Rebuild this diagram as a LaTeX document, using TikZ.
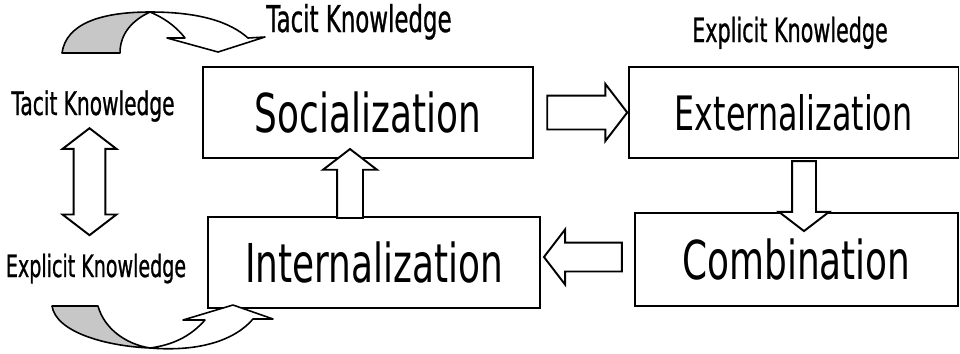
\documentclass[tikz,border=0pt]{standalone}
\usepackage{fontspec}
\newfontfamily\boxfont[FakeStretch=0.67]{DejaVu Sans}
\newfontfamily\kindfont[FakeStretch=0.62,FakeBold=0.8]{DejaVu Sans}
\usepackage{tikz}
\usetikzlibrary{positioning,calc,shapes.arrows}

\begin{document}
\begin{tikzpicture}[x=0.02cm,y=-0.02cm,line width=1.1pt,
    mode/.style={rectangle,draw,minimum width=6.6cm,minimum height=1.82cm,font=\boxfont\fontsize{30.5}{36}\selectfont},
    kind/.style={anchor=base,inner sep=0pt,font=\kindfont\fontsize{#1}{#1}\selectfont},
    flow/.style={single arrow,draw,fill=white,single arrow tip angle=105},
    band/.style={draw,line width=0.9pt,line join=round}]
\useasboundingbox (0,0) rectangle (960,353);

\node[mode] (soc) at (368,112.5) {Socialization};
\node[mode] (ext) at (793.5,112.5) [font=\boxfont\fontsize{27}{34}\selectfont] {Externalization};
\node[mode,minimum width=6.46cm,minimum height=1.86cm] (comb) at (796.5,259.5) {Combination};
\node[mode,minimum width=6.64cm] (int) at (374,262.5) {Internalization};

\node[kind=21] (tacitT) at (359,32) {Tacit Knowledge};
\node[kind=19] (explT) at (790,42) {Explicit Knowledge};
\node[kind=18.5] (tacitL) at (93,115) {Tacit Knowledge};
\node[kind=17.5] (explL) at (96,277) {Explicit Knowledge};

\node[flow,inner sep=0.32cm,minimum height=1.6cm,single arrow head extend=0.23cm]
    (s2e) at ($(soc.east)!0.5!(ext.west)$) {};
\node[flow,shape border rotate=270,inner sep=0.22cm,minimum height=1.4cm,single arrow head extend=0.26cm]
    (e2c) at ($(ext.south)!0.5!(comb.north)+(9,6)$) {};
\node[flow,shape border rotate=180,inner sep=0.27cm,minimum height=1.56cm,single arrow head extend=0.26cm]
    (c2i) at ($(comb.west)!0.5!(int.east)+(1,-4)$) {};
\node[flow,shape border rotate=90,inner sep=0.24cm,minimum height=1.38cm,single arrow head extend=0.28cm]
    (i2s) at ($(int.north)!0.5!(soc.south)+(-21,1)$) {};
\node[double arrow,draw,fill=white,inner sep=0.3cm,shape border rotate=90,double arrow tip angle=105,
    minimum height=2.14cm,double arrow head extend=0.22cm]
    (te) at ($(tacitL.south)!0.5!(explL.north)+(-5,-6)$) {};

\draw[band,fill=black!22] (62,53) .. controls (66,24) and (100,12) .. (150,12)
    .. controls (133,20) and (120,33) .. (120,53) -- cycle;
\draw[band,fill=white] (150,12) .. controls (200,12) and (230,22) .. (248,38) -- (265,37)
    -- (218,52) -- (167,38) -- (185,38) .. controls (175,25) and (162,17) .. (150,12) -- cycle;

\draw[band,fill=black!22] (52,306) -- (98,306) .. controls (104,328) and (125,344) .. (150,348)
    .. controls (105,346) and (56,332) .. (52,306) -- cycle;
\draw[band,fill=white] (150,348) .. controls (200,352) and (235,340) .. (253,319) -- (273,319)
    -- (233,305) -- (183,320) -- (205,320) .. controls (190,337) and (172,345) .. (150,348) -- cycle;
\end{tikzpicture}
\end{document}
